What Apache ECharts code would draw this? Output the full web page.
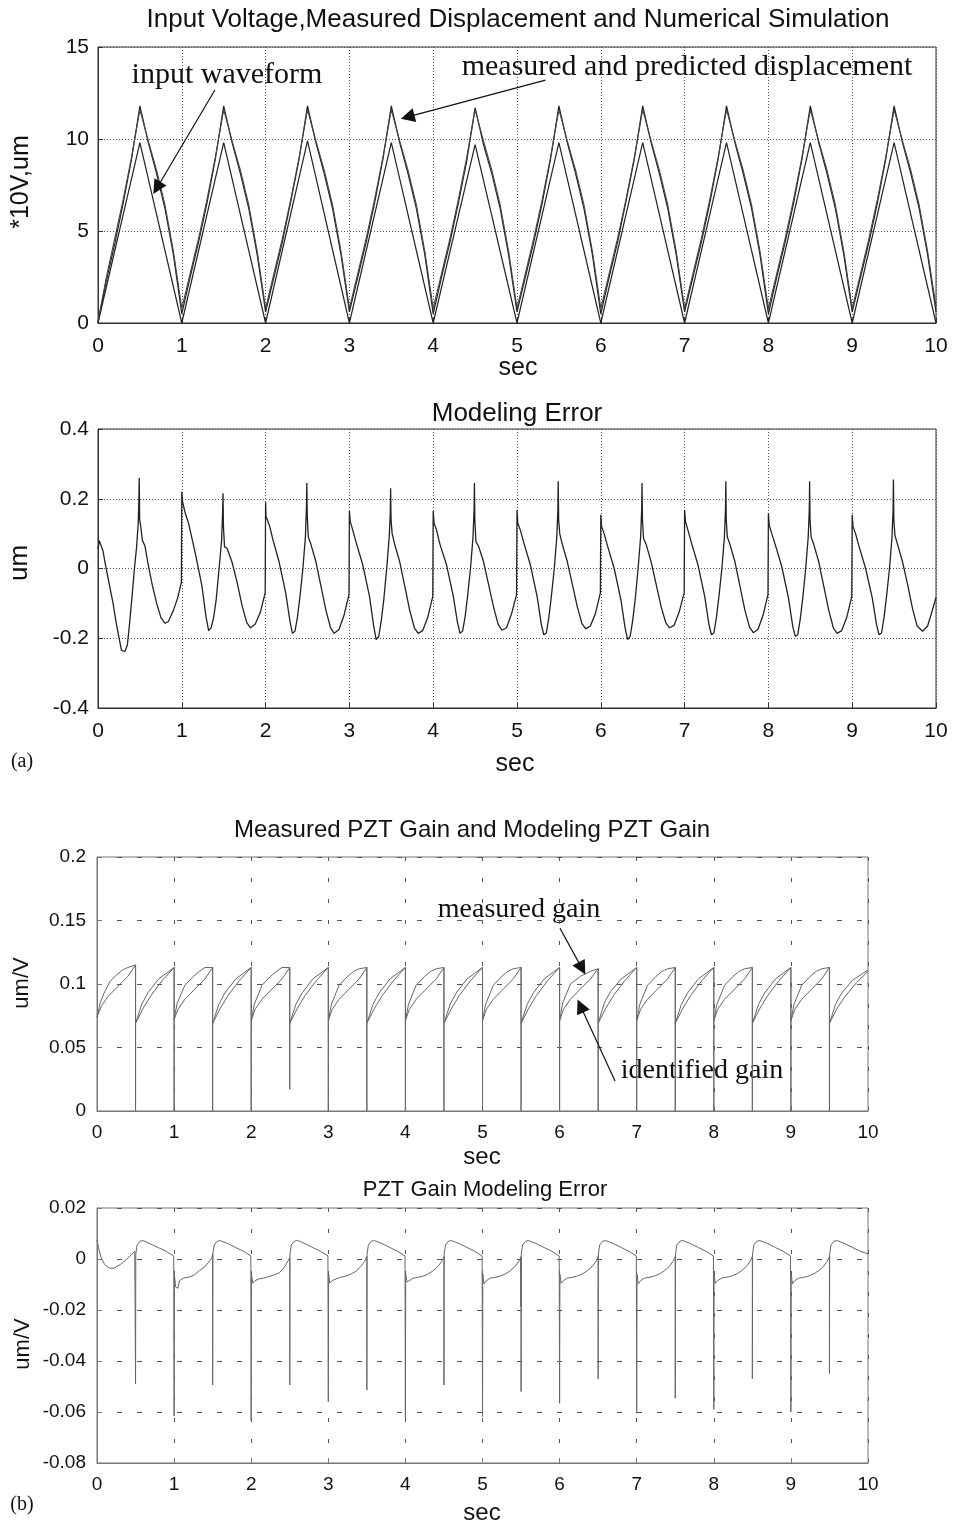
<!DOCTYPE html>
<html><head><meta charset="utf-8">
<script src="https://cdn.jsdelivr.net/npm/echarts/dist/echarts.min.js"></script>
<style>html,body{margin:0;padding:0;background:#fff}#c{width:953px;height:1527px}</style>
</head><body><div id="c"></div>
<script>
// ---------- Tick labels / ranges ----------
const xTicks = [0,1,2,3,4,5,6,7,8,9,10];
const y1Ticks = [0,5,10,15];
const y2Ticks = [-0.4,-0.2,0,0.2,0.4];
const y3Ticks = [0,0.05,0.1,0.15,0.2];
const y4Ticks = [-0.08,-0.06,-0.04,-0.02,0,0.02];

// ---------- Panel 1: input voltage (*10V) and displacement (um) ----------
const inputWave = [[0,0],[0.5,9.8],[1,0],[1.5,9.8],[2,0],[2.5,9.9],[3,0],[3.5,9.8],[4,0],[4.5,9.7],[5,0],[5.5,9.8],[6,0],[6.5,9.8],[7,0],[7.5,9.8],[8,0],[8.5,9.8],[9,0],[9.5,9.8],[10,0]];
const dispMeasured = [
[0,0],[0.1,2.3],[0.2,4.3],[0.3,6.5],[0.4,8.9],[0.5,11.8],[0.6,9.8],[0.7,8.1],[0.8,6.2],[0.9,3.7],
[1,0.5],[1.1,2.5],[1.2,4.4],[1.3,6.5],[1.4,8.9],[1.5,11.8],[1.6,9.8],[1.7,8.1],[1.8,6.2],[1.9,3.7],
[2,0.6],[2.1,2.5],[2.2,4.4],[2.3,6.6],[2.4,8.9],[2.5,11.8],[2.6,9.8],[2.7,8.1],[2.8,6.2],[2.9,3.7],
[3,0.6],[3.1,2.5],[3.2,4.4],[3.3,6.5],[3.4,8.9],[3.5,11.8],[3.6,9.8],[3.7,8.1],[3.8,6.2],[3.9,3.7],
[4,0.5],[4.1,2.5],[4.2,4.4],[4.3,6.5],[4.4,8.8],[4.5,11.7],[4.6,9.7],[4.7,8.1],[4.8,6.2],[4.9,3.7],
[5,0.6],[5.1,2.5],[5.2,4.4],[5.3,6.5],[5.4,8.9],[5.5,11.8],[5.6,9.8],[5.7,8.1],[5.8,6.2],[5.9,3.7],
[6,0.5],[6.1,2.5],[6.2,4.4],[6.3,6.6],[6.4,8.9],[6.5,11.8],[6.6,9.8],[6.7,8.1],[6.8,6.2],[6.9,3.7],
[7,0.6],[7.1,2.5],[7.2,4.4],[7.3,6.5],[7.4,8.9],[7.5,11.8],[7.6,9.8],[7.7,8.1],[7.8,6.2],[7.9,3.7],
[8,0.5],[8.1,2.5],[8.2,4.4],[8.3,6.5],[8.4,8.9],[8.5,11.8],[8.6,9.8],[8.7,8.1],[8.8,6.2],[8.9,3.7],
[9,0.6],[9.1,2.5],[9.2,4.4],[9.3,6.5],[9.4,8.9],[9.5,11.8],[9.6,9.8],[9.7,8.1],[9.8,6.2],[9.9,3.7],
[10,0.6]];
const dispPredicted = [
[0,0.1],[0.1,2.5],[0.2,4.6],[0.3,6.7],[0.4,9.0],[0.5,11.6],[0.6,9.9],[0.7,8.3],[0.8,6.4],[0.9,3.9],
[1,0.8],[1.1,2.7],[1.2,4.6],[1.3,6.7],[1.4,9.0],[1.5,11.6],[1.6,9.9],[1.7,8.3],[1.8,6.4],[1.9,3.9],
[2,0.8],[2.1,2.7],[2.2,4.6],[2.3,6.7],[2.4,9.0],[2.5,11.6],[2.6,9.9],[2.7,8.3],[2.8,6.4],[2.9,3.9],
[3,0.8],[3.1,2.7],[3.2,4.6],[3.3,6.7],[3.4,9.0],[3.5,11.6],[3.6,9.9],[3.7,8.3],[3.8,6.4],[3.9,3.9],
[4,0.8],[4.1,2.7],[4.2,4.6],[4.3,6.7],[4.4,9.0],[4.5,11.6],[4.6,9.9],[4.7,8.3],[4.8,6.4],[4.9,3.9],
[5,0.8],[5.1,2.7],[5.2,4.6],[5.3,6.7],[5.4,9.0],[5.5,11.6],[5.6,9.9],[5.7,8.3],[5.8,6.4],[5.9,3.9],
[6,0.8],[6.1,2.7],[6.2,4.6],[6.3,6.7],[6.4,9.0],[6.5,11.6],[6.6,9.9],[6.7,8.3],[6.8,6.4],[6.9,3.9],
[7,0.8],[7.1,2.7],[7.2,4.6],[7.3,6.7],[7.4,9.0],[7.5,11.6],[7.6,9.9],[7.7,8.3],[7.8,6.4],[7.9,3.9],
[8,0.8],[8.1,2.7],[8.2,4.6],[8.3,6.7],[8.4,9.0],[8.5,11.6],[8.6,9.9],[8.7,8.3],[8.8,6.4],[8.9,3.9],
[9,0.8],[9.1,2.7],[9.2,4.6],[9.3,6.7],[9.4,9.0],[9.5,11.6],[9.6,9.9],[9.7,8.3],[9.8,6.4],[9.9,3.9],
[10,0.9]];

// ---------- Panel 2: modeling error (um) ----------
const modelError = [
[0,0.055],[0.015,0.08],[0.035,0.08],[0.06,0.05],[0.09,0.01],[0.13,-0.04],[0.18,-0.1],[0.22,-0.16],[0.26,-0.21],[0.28,-0.235],[0.32,-0.238],[0.35,-0.22],[0.38,-0.15],[0.41,-0.07],[0.435,0.0],[0.46,0.06],[0.48,0.13],[0.488,0.2],[0.492,0.26],[0.497,0.14],[0.51,0.12],[0.53,0.08],[0.56,0.065],[0.6,0.01],[0.65,-0.05],[0.7,-0.1],[0.75,-0.14],[0.8,-0.157],[0.84,-0.152],[0.9,-0.12],[0.95,-0.085],[0.995,-0.04],
[1,0.22],[1.01,0.19],[1.04,0.16],[1.08,0.13],[1.16,0.045],[1.24,-0.05],[1.29,-0.14],[1.32,-0.178],[1.35,-0.17],[1.38,-0.14],[1.41,-0.09],[1.445,0.0],[1.475,0.08],[1.488,0.168],[1.492,0.216],[1.497,0.12],[1.51,0.062],[1.54,0.058],[1.6,0.018],[1.66,-0.04],[1.72,-0.107],[1.775,-0.155],[1.82,-0.17],[1.875,-0.16],[1.935,-0.127],[1.995,-0.07],
[2,0.19],[2.005,0.15],[2.02,0.145],[2.05,0.12],[2.09,0.08],[2.16,0.02],[2.24,-0.07],[2.29,-0.15],[2.32,-0.186],[2.35,-0.18],[2.38,-0.14],[2.41,-0.08],[2.445,0.0],[2.475,0.09],[2.488,0.18],[2.492,0.245],[2.497,0.15],[2.51,0.09],[2.54,0.07],[2.6,0.02],[2.66,-0.05],[2.72,-0.12],[2.775,-0.17],[2.82,-0.186],[2.875,-0.175],[2.935,-0.135],[2.995,-0.075],
[3,0.165],[3.01,0.135],[3.04,0.11],[3.08,0.075],[3.16,0.01],[3.24,-0.08],[3.29,-0.165],[3.32,-0.204],[3.35,-0.195],[3.38,-0.15],[3.41,-0.09],[3.445,0.0],[3.475,0.09],[3.488,0.16],[3.492,0.23],[3.497,0.14],[3.51,0.1],[3.54,0.07],[3.6,0.02],[3.66,-0.05],[3.72,-0.12],[3.775,-0.17],[3.82,-0.186],[3.875,-0.178],[3.935,-0.14],[3.995,-0.08],
[4,0.165],[4.01,0.13],[4.04,0.11],[4.08,0.07],[4.16,0.01],[4.24,-0.08],[4.29,-0.155],[4.32,-0.186],[4.35,-0.18],[4.38,-0.14],[4.41,-0.08],[4.445,0.0],[4.475,0.09],[4.488,0.17],[4.492,0.245],[4.497,0.14],[4.51,0.076],[4.54,0.065],[4.6,0.02],[4.66,-0.045],[4.72,-0.11],[4.775,-0.16],[4.82,-0.177],[4.875,-0.17],[4.935,-0.13],[4.995,-0.075],
[5,0.168],[5.01,0.13],[5.04,0.11],[5.08,0.075],[5.16,0.01],[5.24,-0.08],[5.29,-0.16],[5.32,-0.19],[5.35,-0.185],[5.38,-0.14],[5.41,-0.08],[5.445,0.0],[5.475,0.09],[5.488,0.17],[5.492,0.25],[5.497,0.14],[5.51,0.1],[5.54,0.07],[5.6,0.02],[5.66,-0.045],[5.72,-0.11],[5.775,-0.158],[5.82,-0.173],[5.875,-0.165],[5.935,-0.13],[5.995,-0.07],
[6,0.154],[6.01,0.12],[6.04,0.1],[6.08,0.065],[6.16,0.0],[6.24,-0.09],[6.29,-0.17],[6.32,-0.204],[6.35,-0.195],[6.38,-0.15],[6.41,-0.09],[6.445,0.0],[6.475,0.09],[6.488,0.17],[6.492,0.245],[6.497,0.14],[6.51,0.086],[6.54,0.07],[6.6,0.02],[6.66,-0.045],[6.72,-0.11],[6.775,-0.155],[6.82,-0.17],[6.875,-0.163],[6.935,-0.125],[6.995,-0.07],
[7,0.168],[7.01,0.135],[7.04,0.11],[7.08,0.075],[7.16,0.01],[7.24,-0.08],[7.29,-0.16],[7.32,-0.19],[7.35,-0.185],[7.38,-0.14],[7.41,-0.08],[7.445,0.0],[7.475,0.09],[7.488,0.17],[7.492,0.25],[7.497,0.14],[7.51,0.09],[7.54,0.07],[7.6,0.02],[7.66,-0.05],[7.72,-0.12],[7.775,-0.168],[7.82,-0.184],[7.875,-0.175],[7.935,-0.135],[7.995,-0.075],
[8,0.158],[8.01,0.125],[8.04,0.1],[8.08,0.07],[8.16,0.005],[8.24,-0.085],[8.29,-0.165],[8.32,-0.194],[8.35,-0.19],[8.38,-0.145],[8.41,-0.085],[8.445,0.0],[8.475,0.09],[8.488,0.17],[8.492,0.25],[8.497,0.14],[8.51,0.09],[8.54,0.07],[8.6,0.02],[8.66,-0.05],[8.72,-0.12],[8.775,-0.17],[8.82,-0.186],[8.875,-0.178],[8.935,-0.14],[8.995,-0.08],
[9,0.154],[9.01,0.12],[9.04,0.1],[9.08,0.065],[9.16,0.0],[9.24,-0.085],[9.29,-0.16],[9.32,-0.19],[9.35,-0.185],[9.38,-0.14],[9.41,-0.08],[9.445,0.0],[9.475,0.09],[9.488,0.17],[9.492,0.255],[9.497,0.14],[9.51,0.095],[9.54,0.07],[9.6,0.02],[9.66,-0.045],[9.72,-0.115],[9.775,-0.165],[9.84,-0.18],[9.9,-0.165],[9.95,-0.125],[10,-0.083]];

// ---------- Panel 3: measured and identified PZT gain (um/V) ----------
const measuredGain = [
[0,0.074],[0.04,0.085],[0.1,0.094],[0.17,0.102],[0.25,0.107],[0.33,0.111],[0.4,0.113],[0.5,0.115],[0.5,0],[0.5,0.069],
[0.58,0.084],[0.66,0.093],[0.8,0.104],[1,0.113],[1,0],[1,0.072],
[1.04,0.085],[1.14,0.099],[1.25,0.106],[1.33,0.11],[1.4,0.113],[1.5,0.113],[1.5,0],[1.5,0.069],
[1.58,0.084],[1.66,0.093],[1.8,0.104],[2,0.113],[2,0],[2,0.071],
[2.04,0.084],[2.14,0.099],[2.25,0.106],[2.33,0.11],[2.4,0.113],[2.5,0.113],[2.5,0.017],[2.5,0.069],
[2.58,0.084],[2.66,0.093],[2.8,0.104],[3,0.113],[3,0],[3,0.071],
[3.04,0.084],[3.14,0.099],[3.25,0.106],[3.33,0.11],[3.4,0.112],[3.5,0.113],[3.5,0],[3.5,0.069],
[3.58,0.084],[3.66,0.093],[3.8,0.104],[4,0.113],[4,0],[4,0.071],
[4.04,0.084],[4.14,0.099],[4.25,0.106],[4.33,0.11],[4.4,0.112],[4.5,0.113],[4.5,0],[4.5,0.069],
[4.58,0.084],[4.66,0.093],[4.8,0.104],[5,0.113],[5,0],[5,0.071],
[5.04,0.084],[5.14,0.099],[5.25,0.106],[5.33,0.11],[5.4,0.112],[5.5,0.113],[5.5,0],[5.5,0.069],
[5.58,0.084],[5.66,0.093],[5.8,0.104],[6,0.113],[6,0],[6,0.071],
[6.04,0.085],[6.14,0.1],[6.27,0.106],[6.4,0.11],[6.5,0.112],[6.5,0],[6.5,0.069],
[6.58,0.085],[6.66,0.094],[6.8,0.104],[7,0.113],[7,0],[7,0.071],
[7.04,0.084],[7.14,0.099],[7.25,0.106],[7.33,0.11],[7.4,0.112],[7.5,0.113],[7.5,0],[7.5,0.069],
[7.58,0.084],[7.66,0.093],[7.8,0.104],[8,0.113],[8,0],[8,0.071],
[8.04,0.084],[8.14,0.099],[8.25,0.106],[8.33,0.11],[8.4,0.112],[8.5,0.113],[8.5,0],[8.5,0.069],
[8.58,0.084],[8.66,0.093],[8.8,0.104],[9,0.113],[9,0],[9,0.071],
[9.04,0.084],[9.14,0.099],[9.25,0.106],[9.33,0.11],[9.4,0.112],[9.5,0.113],[9.5,0],[9.5,0.069],
[9.58,0.084],[9.66,0.093],[9.8,0.103],[10,0.111]];
const identifiedGain = [
[0,0.074],[0.06,0.083],[0.14,0.09],[0.27,0.098],[0.4,0.106],[0.5,0.115],[0.5,0.069],
[0.6,0.081],[0.7,0.091],[0.85,0.103],[1,0.113],[1,0.072],
[1.05,0.08],[1.14,0.088],[1.27,0.096],[1.4,0.104],[1.5,0.113],[1.5,0.069],
[1.6,0.081],[1.7,0.091],[1.85,0.103],[2,0.113],[2,0.071],
[2.05,0.08],[2.14,0.088],[2.27,0.096],[2.4,0.104],[2.5,0.113],[2.5,0.069],
[2.6,0.081],[2.7,0.091],[2.85,0.103],[3,0.113],[3,0.071],
[3.05,0.08],[3.14,0.088],[3.27,0.096],[3.4,0.104],[3.5,0.113],[3.5,0.069],
[3.6,0.081],[3.7,0.091],[3.85,0.103],[4,0.113],[4,0.071],
[4.05,0.08],[4.14,0.088],[4.27,0.096],[4.4,0.104],[4.5,0.113],[4.5,0.069],
[4.6,0.081],[4.7,0.091],[4.85,0.103],[5,0.113],[5,0.071],
[5.05,0.08],[5.14,0.088],[5.27,0.096],[5.4,0.104],[5.5,0.113],[5.5,0.069],
[5.6,0.081],[5.7,0.091],[5.85,0.103],[6,0.113],[6,0.071],
[6.05,0.08],[6.14,0.088],[6.27,0.096],[6.4,0.104],[6.5,0.112],[6.5,0.069],
[6.6,0.081],[6.7,0.091],[6.85,0.103],[7,0.113],[7,0.071],
[7.05,0.08],[7.14,0.088],[7.27,0.096],[7.4,0.104],[7.5,0.113],[7.5,0.069],
[7.6,0.081],[7.7,0.091],[7.85,0.103],[8,0.113],[8,0.071],
[8.05,0.08],[8.14,0.088],[8.27,0.096],[8.4,0.104],[8.5,0.113],[8.5,0.069],
[8.6,0.081],[8.7,0.091],[8.85,0.103],[9,0.113],[9,0.071],
[9.05,0.08],[9.14,0.088],[9.27,0.096],[9.4,0.104],[9.5,0.113],[9.5,0.069],
[9.6,0.081],[9.7,0.09],[9.85,0.101],[10,0.11]];

// ---------- Panel 4: PZT gain modeling error (um/V) ----------
const gainError = [
[0,0.0075],[0.02,0.0045],[0.05,0.0008],[0.1,-0.0022],[0.16,-0.0036],[0.22,-0.0036],[0.3,-0.0022],[0.38,-0.0002],[0.45,0.0018],[0.49,0.003],[0.5,0.0035],[0.5,-0.049],[0.503,0.002],[0.52,0.0055],[0.56,0.007],[0.6,0.0072],[0.7,0.0058],[0.8,0.0044],[0.9,0.003],[0.995,0.0012],
[1,0.0008],[1,-0.0616],[1.004,-0.006],[1.02,-0.011],[1.05,-0.0115],[1.07,-0.0085],[1.12,-0.0075],[1.18,-0.0072],[1.25,-0.0065],[1.33,-0.0045],[1.4,-0.003],[1.45,-0.0012],[1.49,0.0005],[1.5,0.002],[1.5,-0.0494],[1.503,0.002],[1.52,0.0055],[1.56,0.007],[1.6,0.0072],[1.7,0.006],[1.8,0.0045],[1.9,0.003],[1.995,0.0012],
[2,0.0008],[2,-0.0634],[2.004,-0.006],[2.02,-0.0095],[2.05,-0.0085],[2.1,-0.0078],[2.16,-0.0075],[2.22,-0.007],[2.3,-0.0062],[2.36,-0.0055],[2.42,-0.0037],[2.47,-0.0012],[2.5,0.0005],[2.5,-0.0494],[2.503,0.002],[2.52,0.0055],[2.56,0.007],[2.6,0.0073],[2.7,0.006],[2.8,0.0045],[2.9,0.003],[2.995,0.0012],
[3,0.0008],[3,-0.056],[3.004,-0.006],[3.02,-0.0095],[3.05,-0.0085],[3.1,-0.0078],[3.16,-0.0072],[3.22,-0.0068],[3.3,-0.0058],[3.36,-0.0048],[3.42,-0.003],[3.47,-0.001],[3.5,0.001],[3.5,-0.0514],[3.503,0.002],[3.52,0.0055],[3.56,0.007],[3.6,0.0072],[3.7,0.006],[3.8,0.0045],[3.9,0.003],[3.995,0.0012],
[4,0.0008],[4,-0.0625],[4.004,-0.006],[4.02,-0.009],[4.05,-0.0085],[4.1,-0.0075],[4.16,-0.0072],[4.22,-0.0068],[4.3,-0.0058],[4.36,-0.0046],[4.42,-0.003],[4.47,-0.001],[4.5,0.001],[4.5,-0.0494],[4.503,0.002],[4.52,0.0055],[4.56,0.007],[4.6,0.0072],[4.7,0.006],[4.8,0.0045],[4.9,0.003],[4.995,0.0012],
[5,0.0008],[5,-0.0618],[5.004,-0.006],[5.02,-0.0098],[5.05,-0.0085],[5.1,-0.0075],[5.16,-0.0072],[5.22,-0.0068],[5.3,-0.0058],[5.36,-0.0046],[5.42,-0.003],[5.47,-0.001],[5.495,0.0005],[5.497,-0.0187],[5.5,0.001],[5.5,-0.052],[5.503,0.002],[5.52,0.0055],[5.56,0.007],[5.6,0.0072],[5.7,0.006],[5.8,0.0045],[5.9,0.003],[5.995,0.0012],
[6,0.0008],[6,-0.0566],[6.004,-0.006],[6.02,-0.0095],[6.05,-0.0085],[6.1,-0.0075],[6.16,-0.0072],[6.22,-0.0068],[6.3,-0.0058],[6.36,-0.0046],[6.42,-0.003],[6.47,-0.001],[6.5,0.001],[6.5,-0.047],[6.503,0.002],[6.52,0.0055],[6.56,0.007],[6.6,0.0072],[6.7,0.006],[6.8,0.0045],[6.9,0.003],[6.995,0.0012],
[7,0.0008],[7,-0.0605],[7.004,-0.006],[7.02,-0.0098],[7.05,-0.0085],[7.1,-0.0075],[7.16,-0.0072],[7.22,-0.0068],[7.3,-0.0058],[7.36,-0.0046],[7.42,-0.003],[7.47,-0.001],[7.5,0.001],[7.5,-0.0546],[7.503,0.002],[7.52,0.0055],[7.56,0.007],[7.6,0.0072],[7.7,0.006],[7.8,0.0045],[7.9,0.003],[7.995,0.0012],
[8,0.0008],[8,-0.059],[8.004,-0.006],[8.02,-0.0095],[8.05,-0.0085],[8.1,-0.0075],[8.16,-0.0072],[8.22,-0.0068],[8.3,-0.0058],[8.36,-0.0046],[8.42,-0.003],[8.47,-0.001],[8.5,0.001],[8.5,-0.047],[8.503,0.002],[8.52,0.0055],[8.56,0.007],[8.6,0.0072],[8.7,0.006],[8.8,0.0045],[8.9,0.003],[8.995,0.0012],
[9,0.0008],[9,-0.06],[9.004,-0.006],[9.02,-0.0098],[9.05,-0.0085],[9.1,-0.0075],[9.16,-0.0072],[9.22,-0.0068],[9.3,-0.0058],[9.36,-0.0046],[9.42,-0.003],[9.47,-0.001],[9.5,0.001],[9.5,-0.045],[9.503,0.002],[9.52,0.0055],[9.56,0.007],[9.6,0.0072],[9.7,0.006],[9.8,0.0045],[9.9,0.003],[10,0.002]];

// ---------- Annotation arrows (data coordinates: [start],[tip]) ----------
const arrowInput = [[1.395,12.66],[0.703,7.34]];
const arrowDisp = [[5.34,13.2],[3.695,11.2]];
const arrowMeasGain = [[6.005,0.1439],[6.29,0.1123]];
const arrowIdGain = [[6.719,0.0237],[6.271,0.0827]];

// ---------- Chart ----------
const SANS = '"Liberation Sans", Arial, Helvetica, sans-serif';
const SERIF = '"Liberation Serif", "Times New Roman", serif';
const chart = echarts.init(document.getElementById('c'), null, {renderer:'canvas'});

function xAx(gi, fs, margin, frame, grid){
  return {type:'value', gridIndex:gi, min:0, max:10, interval:1,
    axisLine:{show:true, onZero:false, lineStyle:{color:frame, width:1}},
    axisTick:{show:true, inside:true, length:5, lineStyle:{color:frame}},
    axisLabel:{color:'#111', fontSize:fs, fontFamily:SANS, margin:margin, formatter:v=>String(v)},
    splitLine:{show:true, lineStyle:grid}};
}
function yAx(gi, mn, mx, iv, fs, margin, frame, grid){
  return {type:'value', gridIndex:gi, min:mn, max:mx, interval:iv,
    axisLine:{show:true, onZero:false, lineStyle:{color:frame, width:1}},
    axisTick:{show:true, inside:true, length:5, lineStyle:{color:frame}},
    axisLabel:{color:'#111', fontSize:fs, fontFamily:SANS, margin:margin,
      formatter:v=>String(parseFloat(v.toFixed(4)))},
    splitLine:{show:true, lineStyle:grid}};
}
const dotGrid = {color:'#555', width:1, type:[1,2]};
const dashGridH = {color:'#555', width:1, type:[5,15]};
const dashGridV = {color:'#555', width:1, type:[4,17]};

function txt(t, x, y, size, family, rot){
  return {type:'text', x:x, y:y, rotation:rot||0, silent:true,
    style:{text:t, font:size+'px '+family, fill:'#111',
      textAlign:'center', textVerticalAlign:'middle', align:'center', verticalAlign:'middle'}};
}
function arrowML(a){
  return [{coord:a[0], symbol:'none'},{coord:a[1], symbol:'triangle', symbolSize:14}];
}
const arrowStyle = {silent:true, animation:false, symbol:['none','triangle'], symbolSize:14,
  label:{show:false}, lineStyle:{color:'#111', width:1.2, type:'solid'},
  itemStyle:{color:'#111'}, emphasis:{disabled:true}};

const option = {
  animation:false,
  backgroundColor:'#ffffff',
  grid:[
    {left:98, top:47, width:838, height:276, show:true, borderColor:'#333', borderWidth:1, backgroundColor:'transparent'},
    {left:98, top:429, width:838, height:279, show:true, borderColor:'#333', borderWidth:1, backgroundColor:'transparent'},
    {left:97, top:857, width:771, height:254, show:true, borderColor:'#777', borderWidth:1, backgroundColor:'transparent'},
    {left:97, top:1208, width:771, height:255, show:true, borderColor:'#777', borderWidth:1, backgroundColor:'transparent'}
  ],
  xAxis:[
    xAx(0, 21, 13, '#333', dotGrid),
    xAx(1, 21, 13, '#333', dotGrid),
    xAx(2, 19, 12, '#777', dashGridV),
    xAx(3, 19, 12, '#777', dashGridV)
  ],
  yAxis:[
    yAx(0, y1Ticks[0], y1Ticks[y1Ticks.length-1], 5, 21, 9, '#333', dotGrid),
    yAx(1, y2Ticks[0], y2Ticks[y2Ticks.length-1], 0.2, 21, 9, '#333', dotGrid),
    yAx(2, y3Ticks[0], y3Ticks[y3Ticks.length-1], 0.05, 19, 11, '#777', dashGridH),
    yAx(3, y4Ticks[0], y4Ticks[y4Ticks.length-1], 0.02, 19, 11, '#777', dashGridH)
  ],
  series:[
    {name:'input waveform', type:'line', xAxisIndex:0, yAxisIndex:0, data:inputWave, symbol:'none', lineStyle:{color:'#222', width:1.2},
     markLine:Object.assign({data:[arrowML(arrowInput), arrowML(arrowDisp)]}, arrowStyle)},
    {name:'measured displacement', type:'line', xAxisIndex:0, yAxisIndex:0, data:dispMeasured, symbol:'none', lineStyle:{color:'#222', width:1.2}},
    {name:'predicted displacement', type:'line', xAxisIndex:0, yAxisIndex:0, data:dispPredicted, symbol:'none', lineStyle:{color:'#444', width:1.1}},
    {name:'modeling error', type:'line', xAxisIndex:1, yAxisIndex:1, data:modelError, symbol:'none', lineStyle:{color:'#222', width:1.3}},
    {name:'measured gain', type:'line', xAxisIndex:2, yAxisIndex:2, data:measuredGain, symbol:'none', lineStyle:{color:'#666', width:1},
     markLine:Object.assign({data:[arrowML(arrowMeasGain), arrowML(arrowIdGain)]}, arrowStyle)},
    {name:'identified gain', type:'line', xAxisIndex:2, yAxisIndex:2, data:identifiedGain, symbol:'none', lineStyle:{color:'#666', width:1}},
    {name:'gain error', type:'line', xAxisIndex:3, yAxisIndex:3, data:gainError, symbol:'none', lineStyle:{color:'#666', width:1}}
  ],
  graphic:[
    txt('Input Voltage,Measured Displacement and Numerical Simulation', 518, 20, 26, SANS),
    txt('Modeling Error', 517, 414, 26, SANS),
    txt('Measured PZT Gain and Modeling PZT Gain', 472, 830, 24, SANS),
    txt('PZT Gain Modeling Error', 485, 1190, 22, SANS),
    txt('*10V,um', 21, 182, 25, SANS, Math.PI/2),
    txt('um', 20, 563, 26, SANS, Math.PI/2),
    txt('um/V', 22, 983, 22, SANS, Math.PI/2),
    txt('um/V', 23, 1344, 22, SANS, Math.PI/2),
    txt('sec', 518, 368, 25, SANS),
    txt('sec', 515, 764, 25, SANS),
    txt('sec', 482, 1157, 24, SANS),
    txt('sec', 482, 1513, 24, SANS),
    txt('(a)', 22, 762, 20, SERIF),
    txt('(b)', 22, 1505, 20, SERIF),
    txt('input waveform', 227, 75, 30, SERIF),
    txt('measured and predicted displacement', 687, 67, 30, SERIF),
    txt('measured gain', 519, 910, 28, SERIF),
    txt('identified gain', 702, 1071, 28, SERIF)
  ]
};
chart.setOption(option);
</script></body></html>
